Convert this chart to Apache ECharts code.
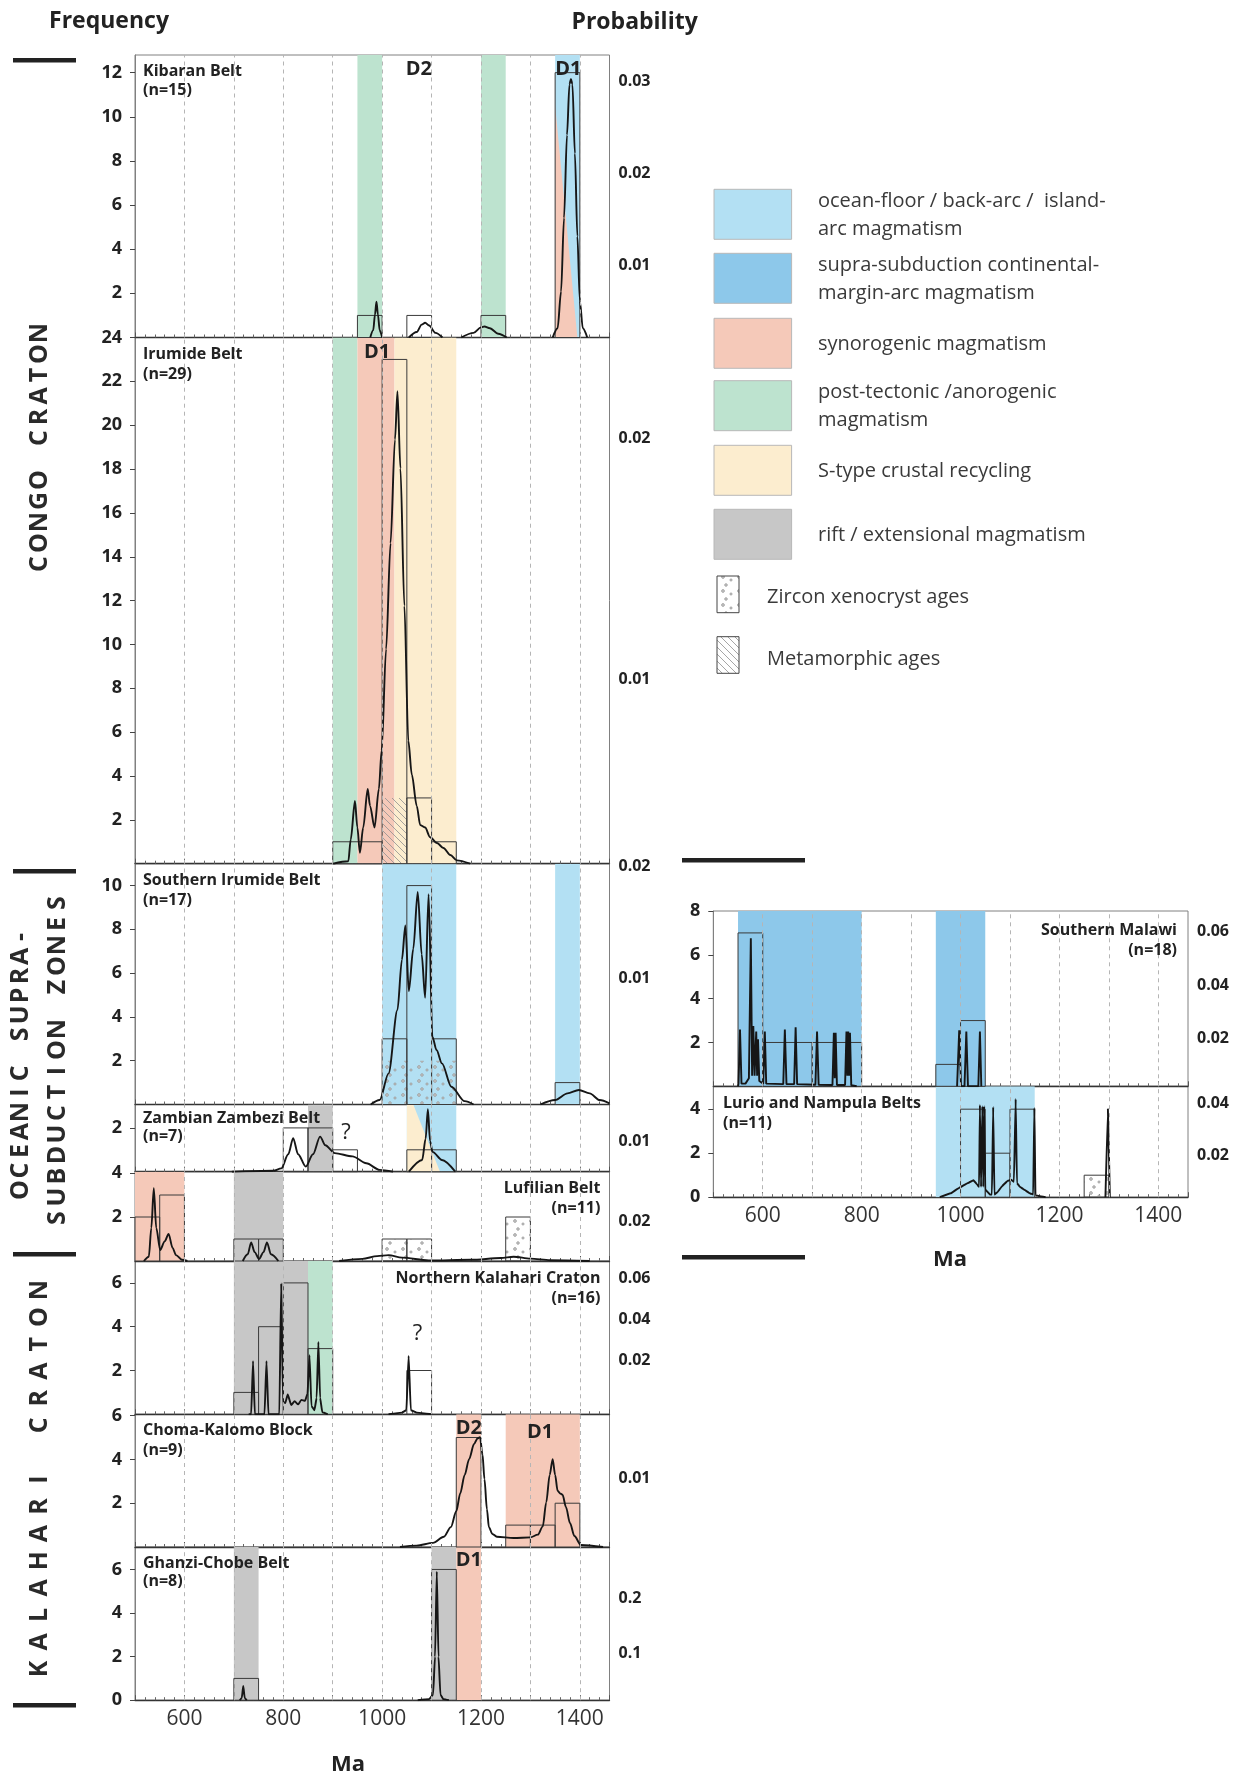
<!DOCTYPE html>
<html><head><meta charset="utf-8"><title>Magmatic age spectra</title>
<script src="https://cdn.jsdelivr.net/npm/echarts@6.0.0/dist/echarts.min.js"></script>
<style>html,body{margin:0;padding:0;background:#fff;}#chart{width:1241px;height:1778px;}</style>
</head><body><div id="chart"></div>
<script>
// ================= DATA =================
const ageLabels = [600, 800, 1000, 1200, 1400];
const gridAges = [600, 700, 800, 900, 1000, 1100, 1200, 1300, 1400];

// bands: [from Ma, to Ma, type, (upper-right type for split bands)]
// bars: [from Ma, to Ma, frequency]
// curves: [Ma, probability], null = gap

// Kibaran Belt
const kibaranBands = [[950,1000,'post'],[1200,1250,'post'],[1350,1400,'syn','ocean']];
const kibaranBars = [[950,1000,1],[1050,1100,1],[1200,1250,1],[1350,1400,12]];
const kibaranCurve = [[976,0],[982,0.0008],[985.5,0.0025],[988.5,0.0039],[991.5,0.0025],[995,0.0008],[1000,0],null,
  [1054,0],[1070,0.0006],[1080,0.0014],[1087,0.0016],[1095,0.0013],[1108,0.0005],[1122,0],null,
  [1160,0],[1185,0.0005],[1200,0.0011],[1207,0.0012],[1218,0.001],[1235,0.0004],[1252,0],null,
  [1345,0],[1355,0.001],[1362,0.005],[1368,0.013],[1374,0.022],[1379,0.0275],[1382,0.0281],[1385,0.0275],[1390,0.02],[1395,0.011],[1400,0.004],[1406,0.001],[1415,0]];
const kibaranFreqLabels = [2,4,6,8,10,12];
const kibaranProbLabels = [0.01,0.02,0.03];

// Irumide Belt
const irumideBands = [[900,950,'post'],[950,1025,'syn'],[1025,1150,'stype']];
const irumideBars = [[900,1000,1],[1000,1050,23],[1050,1100,3],[1100,1150,1]];
const irumideMeta = [[1000,1050,3]];
const irumideCurve = [[901,0],[931.6,0.0001],[936.4,0.001],[945,0.0026],[949.9,0.0015],[955,0.00045],[961.7,0.0015],[970.8,0.0031],[975.5,0.0024],[984.6,0.0015],[993.4,0.0031],[999,0.0047],[1008,0.0089],[1017,0.0133],[1026,0.0176],[1031,0.0196],[1037,0.0164],[1045,0.0107],[1053,0.0051],[1060,0.0037],[1070,0.0024],[1077,0.0016],[1087,0.0015],[1097,0.0011],[1111,0.00086],[1124,0.00065],[1138,0.00036],[1151,0.00014],[1178,0]];
const irumideFreqLabels = [2,4,6,8,10,12,14,16,18,20,22,24];
const irumideProbLabels = [0.01,0.02];

// Southern Irumide Belt
const sIrumideBands = [[1000,1150,'ocean'],[1350,1400,'ocean']];
const sIrumideBars = [[1000,1050,3],[1050,1100,10],[1100,1150,3],[1350,1400,1]];
const sIrumideXeno = [[1000,1150,2]];
const sIrumideCurve = [[977,0],[995,0.0004],[1013,0.0028],[1031,0.0085],[1040,0.013],[1047,0.0161],[1054,0.0102],[1063,0.014],[1072,0.0191],[1080,0.0135],[1087,0.0096],[1094,0.0189],[1101.6,0.0061],[1110,0.0049],[1121,0.0037],[1140,0.0016],[1167,0.0003],[1185,0],null,
  [1320,0],[1350,0.0004],[1375,0.001],[1398,0.0013],[1420,0.001],[1440,0.0004],[1460,0.0001]];
const sIrumideFreqLabels = [2,4,6,8,10];
const sIrumideProbLabels = [0.01,0.02];

// Zambian Zambezi Belt
const zambeziBands = [[850,900,'rift'],[1050,1150,'stype','ocean']];
const zambeziBars = [[800,850,2],[850,900,2],[900,950,1],[1050,1100,1],[1100,1150,1]];
const zambeziCurve = [[696,0],[780,0.0003],[796,0.0011],[810,0.0058],[820,0.0112],[830,0.0058],[845.6,0.0017],[860,0.0058],[874.5,0.0117],[885,0.0088],[904,0.0062],[940,0.0051],[968,0.0028],[995,0.0006],[1022,0],null,
  [1054,0],[1081,0.0039],[1088,0.011],[1092.5,0.0208],[1097,0.0102],[1102,0.0066],[1121,0.0039],[1148,0]];
const zambeziFreqLabels = [2];
const zambeziProbLabels = [0.01];

// Lufilian Belt
const lufilianBands = [[500,600,'syn'],[700,800,'rift']];
const lufilianBars = [[500,550,2],[550,600,3],[700,750,1],[750,800,1],[1000,1050,1],[1050,1100,1],[1250,1300,2]];
const lufilianXeno = [[1000,1050,1],[1050,1100,1],[1250,1300,2]];
const lufilianCurve = [[518,0],[528,0.0022],[533,0.0168],[538,0.037],[543,0.0168],[551,0.0056],[560,0.01],[568,0.0138],[576,0.0067],[583,0.003],[595,0.0006],[606,0],null,
  [718,0],[728,0.0034],[735,0.0095],[742,0.0045],[751,0.0011],[760,0.0045],[767,0.0095],[775,0.0034],[790,0],null,
  [913,0],[960,0.0011],[990,0.0025],[1013,0.003],[1040,0.0017],[1094,0.0003],[1180,0.0006],[1240,0.0015],[1266,0.0022],[1300,0.0012],[1340,0.0004],[1420,0]];
const lufilianFreqLabels = [2,4];
const lufilianProbLabels = [0.02];

// Northern Kalahari Craton
const nKalahariBands = [[700,850,'rift'],[850,900,'post']];
const nKalahariBars = [[700,750,1],[750,800,4],[800,850,6],[850,900,3],[1050,1100,2]];
const nKalahariCurve = [[730,0],[735,0],[738.8,0.0258],[742.5,0],[762,0],[766,0.0258],[770,0],[792,0],[795.8,0.0635],[799.5,0.006],[804,0.0055],[809,0.0096],[816,0.0045],[823,0.0064],[830,0.0048],[836.5,0.007],[844,0.0065],[849,0.01],[853,0.0287],[857,0.004],[863,0.002],[867.5,0.008],[871,0.0351],[874.5,0.008],[879,0.001],[890,0],null,
  [1013,0],[1040,0.0008],[1049,0.002],[1053.6,0.0283],[1058,0.002],[1070,0.0008],[1101,0]];
const nKalahariFreqLabels = [2,4,6];
const nKalahariProbLabels = [0.02,0.04,0.06];

// Choma-Kalomo Block
const chomaBands = [[1150,1200,'syn'],[1250,1400,'syn']];
const chomaBars = [[1150,1200,5],[1250,1300,1],[1300,1350,1],[1350,1400,2]];
const chomaCurve = [[1036,0],[1070,0.0002],[1103,0.0006],[1125,0.0015],[1139,0.0029],[1150,0.0052],[1158,0.0078],[1167,0.0105],[1176,0.0128],[1186,0.015],[1193,0.0158],[1198,0.016],[1203,0.0135],[1207,0.0099],[1212,0.0055],[1216,0.0029],[1223,0.0019],[1232,0.0015],[1266,0.0013],[1300,0.0014],[1315,0.0018],[1325,0.003],[1332,0.0065],[1339,0.0105],[1345,0.0128],[1350,0.0105],[1355,0.0082],[1360,0.0078],[1365,0.0076],[1372,0.0058],[1380,0.0035],[1389,0.0016],[1402,0.0003],[1447,0]];
const chomaFreqLabels = [2,4,6];
const chomaProbLabels = [0.01];

// Ghanzi-Chobe Belt
const ghanziBands = [[700,750,'rift'],[1100,1150,'rift'],[1150,1200,'syn']];
const ghanziBars = [[700,750,1],[1100,1150,6]];
const ghanziCurve = [[712,0],[716,0.004],[719,0.026],[722,0.004],[726,0],null,
  [1072,0],[1095,0.002],[1103,0.01],[1107,0.08],[1110.6,0.236],[1114,0.08],[1118,0.01],[1124,0.002],[1135,0]];
const ghanziFreqLabels = [0,2,4,6];
const ghanziProbLabels = [0.1,0.2];

// Southern Malawi
const malawiBands = [[550,800,'supra'],[950,1050,'supra']];
const malawiBars = [[550,600,7],[600,700,2],[700,800,2],[950,1000,1],[1000,1050,3]];
const malawiCurve = [[550,0],[551,0.001],[554,0.0213],[557,0.001],[565,0.001],[572,0.003],[575.9,0.0555],[578.5,0.004],[580.9,0.0226],[583.5,0.004],[586.8,0.0205],[588.6,0.004],[590.4,0.0176],[593,0.002],[601,0.001],[604.2,0.0205],[607,0.001],[641.5,0.0008],[644.7,0.0213],[648,0.0008],[663.5,0.0008],[666.5,0.0221],[669.5,0.0008],[706.5,0.0006],[709.8,0.0205],[713,0.0006],[741,0.0005],[743.8,0.0201],[745.6,0.003],[747.4,0.0201],[750,0.0005],[766.5,0.0005],[769.3,0.0205],[771.1,0.004],[772.9,0.0205],[774.6,0.004],[776.4,0.0201],[779,0.0004],[790,0],null,
  [993,0],[997.3,0.021],[1001,0],[1008,0],[1011.7,0.0205],[1015,0],[1036,0],[1039.2,0.0205],[1042,0]];
const malawiFreqLabels = [2,4,6,8];
const malawiProbLabels = [0.02,0.04,0.06];

// Lurio and Nampula Belts
const lurioBands = [[950,1150,'ocean']];
const lurioBars = [[1000,1050,4],[1050,1100,2],[1100,1150,4],[1250,1300,1]];
const lurioXeno = [[1250,1300,1]];
const lurioCurve = [[958,0],[980,0.0015],[997,0.0036],[1015,0.0055],[1026,0.0066],[1033,0.005],[1037.5,0.004],[1039.2,0.0357],[1041.5,0.004],[1044.2,0.0352],[1046,0.004],[1047.8,0.0352],[1050,0.003],[1060,0.001],[1063.5,0.001],[1066,0.0349],[1068.5,0.001],[1075,0.002],[1084,0.0043],[1095,0.0063],[1102,0.0068],[1108,0.006],[1111.5,0.038],[1114,0.0055],[1120,0.004],[1128,0.003],[1140,0.0015],[1147,0.001],[1149.2,0.0345],[1151.5,0.0008],[1160,0.0004],[1172,0],null,
  [1293,0],[1298,0.0341],[1302,0]];
const lurioFreqLabels = [0,2,4];
const lurioProbLabels = [0.02,0.04];

// legend text
const legendItems = [
  ['ocean', ['ocean-floor / back-arc /  island-', 'arc magmatism']],
  ['supra', ['supra-subduction continental-', 'margin-arc magmatism']],
  ['syn', ['synorogenic magmatism']],
  ['post', ['post-tectonic /anorogenic', 'magmatism']],
  ['stype', ['S-type crustal recycling']],
  ['rift', ['rift / extensional magmatism']]
];

// ================= STYLE / LAYOUT =================
const F = '"Open Sans", "Noto Sans", sans-serif';
const bandColors = {ocean:'#b3e0f3', supra:'#8dc8ea', syn:'#f5c9b9', post:'#bde3cf', stype:'#fcedcf', rift:'#c7c7c7'};
const LW = 474.5, RW = 474.7;

const panels = [
  {title:['Kibaran Belt','(n=15)'], tpos:[143,71.7,90,'left'], bands:kibaranBands, bars:kibaranBars, curve:kibaranCurve, freq:kibaranFreqLabels, prob:kibaranProbLabels,
   box:[135,55,LW,282.5], yMax:12.8, probRange:[0.00217,0.03288], curveMax:0.0307, smooth:0.3, split:[[0,0.18],[0.9,1],[0,1]]},
  {title:['Irumide Belt','(n=29)'], tpos:[143,354,374,'left'], bands:irumideBands, bars:irumideBars, meta:irumideMeta, curve:irumideCurve, freq:irumideFreqLabels, prob:irumideProbLabels,
   box:[135,337.5,LW,526.2], yMax:24, probRange:[0.002357,0.02419], curveMax:0.02183, smooth:0.3},
  {title:['Southern Irumide Belt','(n=17)'], tpos:[143,880,900,'left'], bands:sIrumideBands, bars:sIrumideBars, xeno:sIrumideXeno, curve:sIrumideCurve, freq:sIrumideFreqLabels, prob:sIrumideProbLabels,
   box:[135,863.7,LW,240.8], yMax:11, probRange:[-0.001366,0.02027], curveMax:0.02164, smooth:0.3},
  {title:['Zambian Zambezi Belt','(n=7)'], tpos:[143,1118.3,1136.7,'left'], bands:zambeziBands, bars:zambeziBars, curve:zambeziCurve, freq:zambeziFreqLabels, prob:zambeziProbLabels,
   box:[135,1104.5,LW,67.2], yMax:3.07, probRange:[0,0.0224], curveMax:0.0224, smooth:0.3, split:[[0,0],[0.13,0],[0.67,1],[0,1]]},
  {title:['Lufilian Belt','(n=11)'], tpos:[600.4,1188.3,1208.3,'right'], bands:lufilianBands, bars:lufilianBars, xeno:lufilianXeno, curve:lufilianCurve, freq:lufilianFreqLabels, prob:lufilianProbLabels,
   box:[135,1171.7,LW,89.3], yMax:4.06, probRange:[0,0.04545], curveMax:0.04545, smooth:0.3},
  {title:['Northern Kalahari Craton','(n=16)'], tpos:[600.4,1278.6,1298,'right'], bands:nKalahariBands, bars:nKalahariBars, curve:nKalahariCurve, freq:nKalahariFreqLabels, prob:nKalahariProbLabels,
   box:[135,1261,LW,153.3], yMax:7, probRange:[-0.00617,0.06825], curveMax:0.0744, smooth:0.15},
  {title:['Choma-Kalomo Block','(n=9)'], tpos:[143,1430,1450,'left'], bands:chomaBands, bars:chomaBars, curve:chomaCurve, freq:chomaFreqLabels, prob:chomaProbLabels,
   box:[135,1414.3,LW,132.7], yMax:6.06, probRange:[0,0.01932], curveMax:0.01932, smooth:0.3},
  {title:['Ghanzi-Chobe Belt','(n=8)'], tpos:[143,1563,1581.7,'left'], bands:ghanziBands, bars:ghanziBars, curve:ghanziCurve, freq:ghanziFreqLabels, prob:ghanziProbLabels,
   box:[135,1547,LW,153.2], yMax:7.03, probRange:[0.0134,0.2945], curveMax:0.2811, smooth:0.2, xLabels:true},
  {title:['Southern Malawi','(n=18)'], tpos:[1177,930,950,'right'], bands:malawiBands, bars:malawiBars, curve:malawiCurve, freq:malawiFreqLabels, prob:malawiProbLabels,
   box:[713.3,911,RW,175.3], yMax:8, probRange:[0.00206,0.0677], curveMax:0.0657, smooth:0},
  {title:['Lurio and Nampula Belts','(n=11)'], tpos:[723,1103.3,1123.3,'left'], bands:lurioBands, bars:lurioBars, xeno:lurioXeno, curve:lurioCurve, freq:lurioFreqLabels, prob:lurioProbLabels,
   box:[713.3,1086.3,RW,110.9], yMax:5.04, probRange:[0.00368,0.04658], curveMax:0.0429, smooth:0.05, xLabels:true}
];

// fill patterns
function makeHatch(){
  const c=document.createElement('canvas'); c.width=7; c.height=7;
  const g=c.getContext('2d'); g.strokeStyle='#8f8f8f'; g.lineWidth=0.8;
  g.beginPath(); g.moveTo(0,0); g.lineTo(7,7); g.moveTo(-1,6); g.lineTo(1,8); g.moveTo(6,-1); g.lineTo(8,1); g.stroke();
  return c;
}
function makeDots(){
  const c=document.createElement('canvas'); c.width=16; c.height=14;
  const g=c.getContext('2d'); g.strokeStyle='#9a9a9a'; g.fillStyle='#c9c9c9'; g.lineWidth=0.8;
  [[3,3,1.4],[11,6,1.1],[6,11,1.3]].forEach(d=>{g.beginPath(); g.arc(d[0],d[1],d[2],0,Math.PI*2); g.fill(); g.stroke();});
  return c;
}
const hatchPat = {image: makeHatch(), repeat:'repeat'};
const dotPat = {image: makeDots(), repeat:'repeat'};

const grid=[], xAxis=[], yAxis=[], series=[];
const axisFont = {fontFamily:F, fontWeight:'bold', fontSize:18, color:'#222'};

panels.forEach((p,i)=>{
  grid.push({left:p.box[0], top:p.box[1], width:p.box[2], height:p.box[3], show:true, borderColor:'#808080', borderWidth:1});
  xAxis.push({type:'value', gridIndex:i, min:500, max:1460, interval:100,
    axisLine:{show:true, onZero:false, lineStyle:{color:'#333', width:1.3}},
    axisTick:{show:true, inside:true, length:5, lineStyle:{color:'#555'}},
    minorTick:{show:true, splitNumber:5, length:3, lineStyle:{color:'#666'}},
    splitLine:{show:false},
    axisLabel: p.xLabels ? {show:true, customValues:ageLabels, margin:8, fontFamily:F, fontSize:21, color:'#333', formatter:v=>String(v)} : {show:false}
  });
  yAxis.push({type:'value', gridIndex:i, position:'left', min:0, max:p.yMax, interval:2,
    axisLine:{show:true, onZero:false, lineStyle:{color:'#808080'}},
    axisTick:{show:true, customValues:p.freq, length:5, lineStyle:{color:'#444'}},
    axisLabel:Object.assign({show:true, customValues:p.freq, margin:13, formatter:v=>String(v)}, axisFont),
    splitLine:{show:false}});
  yAxis.push({type:'value', gridIndex:i, position:'right', min:p.probRange[0], max:p.probRange[1],
    axisLine:{show:false}, axisTick:{show:false}, splitLine:{show:false},
    axisLabel:Object.assign({show:true, customValues:p.prob, margin:9, formatter:v=>String(v)}, axisFont, {fontSize:16})});
  yAxis.push({type:'value', gridIndex:i, position:'right', min:0, max:p.curveMax, show:false});

  const fy = 3*i, hy = 3*i+2;
  // bands
  const bands = p.bands, poly = p.split;
  series.push({type:'custom', xAxisIndex:i, yAxisIndex:fy, z:1, silent:true, clip:true,
    data: bands.map(b=>[b[0], b[1], 0]), encode:{x:[0,1], y:2},
    renderItem:(params, api)=>{
      const b = bands[params.dataIndex], cs = params.coordSys;
      const xa = api.coord([b[0],0])[0], xb = api.coord([b[1],0])[0], w = xb-xa;
      const ch = [{type:'rect', shape:{x:xa, y:cs.y, width:w, height:cs.height}, style:{fill:bandColors[b[3]||b[2]]}}];
      if (b[3] && poly) ch.push({type:'polygon', shape:{points:poly.map(q=>[xa+q[0]*w, cs.y+q[1]*cs.height])}, style:{fill:bandColors[b[2]]}});
      return {type:'group', children:ch};
    }});
  // patterns (xenocryst dots, metamorphic hatch)
  const pats = [].concat((p.xeno||[]).map(r=>[r[0],r[1],r[2],'x']), (p.meta||[]).map(r=>[r[0],r[1],r[2],'m']));
  if (pats.length) series.push({type:'custom', xAxisIndex:i, yAxisIndex:fy, z:2, silent:true,
    data: pats.map(r=>[r[0],r[1],r[2]]), encode:{x:[0,1], y:2},
    renderItem:(params, api)=>{
      const r = pats[params.dataIndex];
      const a = api.coord([r[0], r[2]]), b = api.coord([r[1], 0]);
      return {type:'rect', shape:{x:a[0], y:a[1], width:b[0]-a[0], height:b[1]-a[1]}, style:{fill: r[3]==='x'?dotPat:hatchPat}};
    }});
  // histogram boxes
  const bars = p.bars;
  series.push({type:'custom', xAxisIndex:i, yAxisIndex:fy, z:3, silent:true,
    data: bars.map(b=>[b[0],b[1],b[2]]), encode:{x:[0,1], y:2},
    renderItem:(params, api)=>{
      const b = bars[params.dataIndex];
      const a = api.coord([b[0], b[2]]), c = api.coord([b[1], 0]);
      return {type:'rect', shape:{x:a[0], y:a[1], width:c[0]-a[0], height:c[1]-a[1]}, style:{fill:'none', stroke:'#3a3a3a', lineWidth:1}};
    }});
  // probability curve + dashed age grid
  series.push({type:'line', xAxisIndex:i, yAxisIndex:hy, z:4, silent:true, clip:true,
    showSymbol:false, symbol:'none', connectNulls:false, smooth:p.smooth, smoothMonotone:'x',
    lineStyle:{color:'#161616', width:1.9},
    data: p.curve.map(q=> q===null ? ['-','-'] : q),
    markLine:{silent:true, symbol:'none', label:{show:false}, animation:false,
      lineStyle:{type:[4,4], color:'#b5b5b5', width:1},
      data: gridAges.map(v=>({xAxis:v}))}
  });
});

// ================= GRAPHICS (titles, legend, annotations) =================
const graphic = [];
function txt(s, x, y, font, align, color){
  graphic.push({type:'text', x:x, y:y, silent:true, z:10,
    style:{text:s, font:font, fill:color||'#222', align:align||'center', verticalAlign:'middle', textAlign:align||'center', textVerticalAlign:'middle'}});
}
txt('Frequency', 109, 21.7, 'bold 23px '+F);
txt('Probability', 634.6, 22, 'bold 23px '+F);
txt('Ma', 348, 1765, 'bold 22px '+F);
txt('Ma', 950, 1260, 'bold 22px '+F);

panels.forEach(p=>{
  txt(p.title[0], p.tpos[0], p.tpos[1], 'bold 16px '+F, p.tpos[3]);
  txt(p.title[1], p.tpos[0], p.tpos[2], 'bold 16px '+F, p.tpos[3]);
});

[['D2',418.8,69],['D1',568.3,69],['D1',377,352.4],['D2',468.8,1428.5],['D1',540,1431.8],['D1',468.8,1559.8]]
  .forEach(d=>txt(d[0], d[1], d[2], 'bold 20px '+F));
txt('?', 346, 1133, '22px '+F);
txt('?', 417.4, 1334, '22px '+F);

// section separators
[[13,58,63],[13,869,63],[13,1252,63],[13,1703,63],[682,858,123],[682,1255,123]].forEach(b=>{
  graphic.push({type:'rect', silent:true, shape:{x:b[0], y:b[1], width:b[2], height:4.5}, style:{fill:'#222'}});
});

// vertical section labels
function vertLetters(str, x, y0, y1){
  const n = str.length;
  for (let k=0;k<n;k++){
    const ch = str[k]; if (ch===' ') continue;
    graphic.push({type:'text', x:x, y:y0+(y1-y0)*k/(n-1), rotation:Math.PI/2, silent:true,
      style:{text:ch, font:'bold 25px '+F, fill:'#2a2a2a', align:'center', verticalAlign:'middle', textAlign:'center', textVerticalAlign:'middle'}});
  }
}
vertLetters('CONGO CRATON', 40, 564, 333);
vertLetters('OCEANIC SUPRA-', 21, 1190, 937);
vertLetters('SUBDUCTION ZONES', 58, 1218, 903);
vertLetters('KALAHARI CRATON', 40, 1669, 1290);

// legend
const swTops = [189.3,253.3,318.3,380.7,445.3,509.3];
legendItems.forEach((it,k)=>{
  const y = swTops[k];
  graphic.push({type:'rect', silent:true, shape:{x:714, y:y, width:77.6, height:50}, style:{fill:bandColors[it[0]], stroke:'#b8b8b8', lineWidth:1}});
  const c = y+25;
  if (it[1].length===2){ txt(it[1][0], 818, c-13, '20px '+F, 'left', '#3a3a3a'); txt(it[1][1], 818, c+15, '20px '+F, 'left', '#3a3a3a'); }
  else txt(it[1][0], 818, c+1, '20px '+F, 'left', '#3a3a3a');
});
graphic.push({type:'rect', silent:true, shape:{x:717, y:576, width:22, height:36.7}, style:{fill:dotPat, stroke:'#444', lineWidth:1}});
graphic.push({type:'rect', silent:true, shape:{x:717, y:636.7, width:22, height:36.6}, style:{fill:hatchPat, stroke:'#444', lineWidth:1}});
txt('Zircon xenocryst ages', 767, 597.7, '20px '+F, 'left', '#3a3a3a');
txt('Metamorphic ages', 767, 659.3, '20px '+F, 'left', '#3a3a3a');

const chart = echarts.init(document.getElementById('chart'), null, {renderer:'canvas'});
chart.setOption({
  animation:false,
  backgroundColor:'#ffffff',
  textStyle:{fontFamily:F},
  grid:grid, xAxis:xAxis, yAxis:yAxis, series:series, graphic:graphic
});
</script></body></html>
